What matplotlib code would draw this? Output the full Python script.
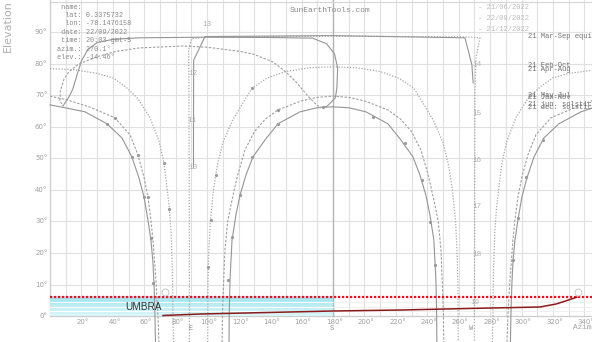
import matplotlib.pyplot as plt
import numpy as np
from matplotlib.colors import LinearSegmentedColormap

# --- values: (azimuth deg, elevation deg) ---
jun_left = [(0, 67.0), (7.6, 66.3), (22.3, 64.8), (36.3, 61.0), (45.8, 56.5), (52.1, 50.5), (56.6, 43.8),
            (59.8, 37.8), (62.3, 30.5), (64.2, 24.1), (65.5, 17.1), (66.2, 9.8), (66.8, 0), (67.1, -8.3)]
jun_right = [(350, 66.8), (337.7, 64.8), (323.7, 61.0), (314.2, 56.5), (307.9, 50.5), (303.4, 43.8),
             (300.2, 37.8), (297.7, 30.5), (295.8, 24.1), (294.5, 17.1), (293.8, 9.8), (293.2, 0), (292.9, -8.3)]
mayjul_left = [(0, 69.8), (10.8, 68.6), (25.4, 66.3), (41.3, 62.9), (50.9, 57.5), (56, 51.1), (59.8, 44.1),
               (62.3, 37.8), (64.2, 30.5), (65.5, 24.1), (67.4, 11.4), (68.7, 0), (69.3, -8.3)]
mayjul_right = [(350, 69.4), (334.6, 66.3), (318.7, 62.9), (309.1, 57.5), (304, 51.1), (300.2, 44.1),
                (297.7, 37.8), (295.8, 30.5), (294.5, 24.1), (292.6, 11.4), (291.3, 0), (290.7, -8.3)]
apraug_left = [(0, 78.5), (15, 78.2), (30, 77), (40, 75.6), (48, 72.8), (56, 69), (63.6, 63), (69.3, 55.6),
               (72.5, 48.6), (74.4, 40.9), (76, 34), (77, 26.7), (77.9, 14.6), (78.2, 0), (78.6, -8.3)]
apraug_right = [(350, 78.3), (330, 77), (320, 75.6), (312, 72.8), (304, 69), (296.4, 63), (290.7, 55.6),
                (287.5, 48.6), (285.6, 40.9), (284, 34), (283, 26.7), (282.1, 14.6), (281.8, 0), (281.4, -8.3)]
equinox = [(88.7, -8.3), (88.7, 0), (88.6, 40), (88.4, 70), (88.2, 84.4), (90, 88.0), (100, 88.6),
           (180, 88.8), (264, 88.6), (273.5, 88.3), (271, 82), (270.3, 70), (270, 0), (270, -8.3)]
today = [(91.3, 47), (91.3, 60), (91.4, 81.2), (98.6, 88.7), (180, 89.0), (264, 88.3), (268.4, 79.7),
         (269.2, 74)]
febokt = [(100.3, -8.3), (100.4, 0), (100.5, 10), (101, 20), (102, 30), (104, 40), (106.5, 48), (110, 55),
          (116, 62), (122, 67), (128.5, 72.3), (138, 75.5), (150, 77.6), (165, 78.8), (180, 79.1),
          (195, 78.8), (210, 77.6), (222, 75.5), (231.5, 72.3), (238, 67), (244, 62), (250, 55),
          (253.5, 48), (256, 40), (258, 30), (259, 20), (259.5, 10), (259.6, 0), (259.7, -8.3)]
jannov = [(109.5, -8.3), (109.7, 0), (110, 5.1), (111.3, 21), (113, 30), (115.8, 36.8), (119, 44),
          (124, 52.7), (130, 58.5), (137, 62.5), (145, 65.4), (160, 68.3), (170, 69.4), (180, 69.8),
          (190, 69.4), (200, 68.3), (215, 65.4), (223, 62.5), (230, 58.5), (236, 52.7), (241, 44),
          (244.2, 36.8), (247, 30), (248.7, 21), (250, 5.1), (250.3, 0), (250.5, -8.3)]
dec = [(113.9, -8.3), (114.0, 0), (114.5, 11.4), (115.8, 24.1), (118.3, 32.1), (120.9, 38.4), (124.7, 44.8),
       (129.1, 50.5), (136.8, 55.9), (145, 61), (159, 64.8), (170, 66.1), (180, 66.4), (190, 66.1),
       (201, 64.8), (215, 61), (223.2, 55.9), (230.9, 50.5), (235.3, 44.8), (239.1, 38.4), (241.7, 32.1),
       (244.2, 24.1), (245.5, 11.4), (246, 0), (246.1, -8.3)]
# analemma (two branches)
anal_a = [(8.3, 66.7), (12, 69.5), (14.5, 72), (17.5, 77), (20, 81), (24, 84.5), (30, 86.8), (40, 87.8),
          (57, 88.3), (100, 88.5), (140, 88.4), (167, 88.2), (176, 86.4), (181, 83.2), (183, 78.7),
          (182.5, 72.4), (181.5, 69.2), (176.5, 66.7), (173.5, 66.1)]
anal_b = [(173.5, 66.1), (170, 66.8), (165, 69.3), (157, 74), (150, 77.5), (142, 80.6), (130, 83), (121, 84),
          (100, 85.3), (84.6, 85.7), (57, 85.1), (42, 84), (30, 82.3), (18, 79.9), (12, 77.5), (8.9, 75.2),
          (6.6, 71.5), (6.3, 68.2), (8.3, 66.7)]
# hourly dots seen on the paths
dots = [(36.3, 61), (52.2, 50.5), (59.8, 37.8), (64.2, 24.8), (65.7, 10.5),
        (313.6, 55.9), (302.8, 44.1), (297.7, 31.1), (294.8, 17.8),
        (128.3, 50.6), (144.8, 61), (173.9, 66.3), (120.9, 38.4), (116, 25), (113.4, 11.4),
        (205.7, 63.3), (225.8, 54.8), (236.4, 43.2), (241.7, 29.9), (244.9, 16.2),
        (145.2, 65.4), (105.6, 44.8), (102.4, 30.5), (100.7, 15.6), (128.5, 72.3),
        (41.3, 62.9), (56, 51.1), (62.3, 37.8), (72.5, 48.6), (76, 34)]
# obstacle / shadow profile (dark red)
profile = [(71.9, 0.16), (95.4, 0.63), (180, 1.59), (222.6, 1.9), (267.2, 2.4), (311.7, 2.86),
           (321.9, 3.8), (328.2, 4.8), (335.2, 6.0)]
umbra_el = 6.1

hour_labels = ['13', '12', '11', '10', '14', '15', '16', '17', '18', '19']
hour_az = [98.6, 90.3, 89.1, 90.3, 270.4, 270.4, 270.4, 270.4, 270.4, 269.7]
hour_el = [92.4, 77.1, 62.2, 47.0, 79.7, 64.4, 49.2, 34.6, 19.4, 4.4]

path_labels = ['21 Mar-Sep equinox', '21 Feb-Oct', '21 Apr-Aug', '21 May-Jul', '21 Jan-Nov',
               '21 jun. solstice', '21 dec. solstice']
path_label_el = [88.6, 79.4, 78.1, 69.9, 69.2, 67.0, 66.3]

legend_dates = ['- 21/06/2022', '- 22/09/2022', '- 21/12/2022']
legend_el = [97.8, 94.3, 90.8]

info = (" name:\n  lat: 0.3375732\n  lon: -78.1476158\n date: 22/09/2022\n"
        " time: 20:03 gmt-5\nazim.: 270.1°\nelev.: -14.46°")

az_ticks = list(range(20, 360, 20))
el_ticks = list(range(0, 100, 10))

fig = plt.figure(figsize=(5.92, 3.42), dpi=100)
ax = fig.add_axes([0, 0, 1, 1])
ax.set_xlim(-31.8, 344.8)
ax.set_ylim(-8.25, 100.3)
ax.axis('off')

# grid
for a in range(10, 350, 10):
    ax.plot([a, a], [0, 100.3], color='#e0e0e0', lw=0.8, zorder=1)
for e in range(10, 100, 10):
    ax.plot([0, 344.8], [e, e], color='#e0e0e0', lw=0.8, zorder=1)
ax.plot([0, 0], [0, 100.3], color='#cccccc', lw=0.9, zorder=1)
ax.plot([0, 344.8], [0, 0], color='#cccccc', lw=0.9, zorder=1)
ax.plot([180, 180], [0, 100.3], color='#b5b5b5', lw=1.0, zorder=1)
ax.plot([0, 344.8], [99.8, 99.8], color='#d5d5d5', lw=0.8, zorder=1)

# umbra band
grad = np.linspace(0, 1, 50).reshape(-1, 1)
cm = LinearSegmentedColormap.from_list('u', ['#dcf7fa', '#9fe4ec'])
ax.imshow(grad, extent=[0, 180, 0, umbra_el], aspect='auto', cmap=cm, origin='lower', zorder=2)
for e in [1.5, 3.0, 4.5]:
    ax.plot([0, 180], [e, e], color='white', lw=0.7, zorder=2)
    ax.plot([180, 344.8], [e, e], color='#ececec', lw=0.6, zorder=2)
ax.text(59.5, 3.0, 'UMBRA', fontsize=7.2, family='Liberation Sans', color='#333333',
        ha='center', va='center', zorder=6)

solid = dict(color='#959595', lw=0.8, zorder=4)
dashed = dict(color='#a0a0a0', lw=0.8, ls=(0, (2.2, 1.4)), zorder=4)
dotted = dict(color='#a8a8a8', lw=0.9, ls=(0, (1, 1.3)), zorder=4)

def draw(pts, style):
    ax.plot([p[0] for p in pts], [p[1] for p in pts], **style)

draw(jun_left, solid)
draw(jun_right, solid)
draw(dec, solid)
draw(mayjul_left, dashed)
draw(mayjul_right, dashed)
draw(jannov, dashed)
draw(apraug_left, dotted)
draw(apraug_right, dotted)
draw(febokt, dotted)
draw(equinox, dotted)
draw(today, solid)
draw(anal_a, solid)
draw(anal_b, dashed)
ax.plot([p[0] for p in dots], [p[1] for p in dots], ls='none', marker='o', ms=1.3, color='#9a9a9a', zorder=4)

# red dotted limit and profile
ax.plot([0, 344.8], [umbra_el, umbra_el], color='#e8141c', lw=1.6, ls=(0, (1, 0.8)), zorder=5)
draw(profile, dict(color='#8b1a1a', lw=1.1, zorder=5))
ax.plot([73.2, 335.9], [7.6, 7.6], ls='none', marker='o', ms=5, mfc='none', mec='#c8c8c8', mew=0.7, zorder=5)

# hour labels
for t, a, e in zip(hour_labels, hour_az, hour_el):
    ax.text(a + 1.0, e, t, fontsize=5.5, family='Liberation Mono', color='#b0b0b0', ha='center', va='center', zorder=6)

# path labels (right)
for t, e in zip(path_labels, path_label_el):
    ax.text(304, e, t, fontsize=5.1, family='Liberation Mono', color='#707070', ha='left', va='center', zorder=6)
for t, e in zip(legend_dates, legend_el):
    ax.text(272.3, e, t, fontsize=5.1, family='Liberation Mono', color='#bdbdbd', ha='left', va='center', zorder=6)

ax.text(4.4, 99.1, info, fontsize=4.95, family='Liberation Mono', color='#8a8a8a', ha='left', va='top',
        linespacing=1.27, zorder=6)
ax.text(152.7, 97.1, 'SunEarthTools.com', fontsize=5.8, family='Liberation Mono', color='#8a8a8a',
        ha='left', va='center', zorder=6)

# axes labels
for a in az_ticks:
    ax.text(a + 1, -1.9, f'{a}°', fontsize=5, color='#a0a0a0', ha='center', va='center', zorder=6)
for e in el_ticks:
    ax.text(-1.6, e, f'{e}°', fontsize=5, color='#a0a0a0', ha='right', va='center', zorder=6)
for t, a in zip(['E', 'S', 'W'], [89.5, 179.5, 268]):
    ax.text(a, -3.9, t, fontsize=5, family='Liberation Mono', color='#909090', ha='center', va='center', zorder=6)
ax.text(332.7, -3.8, 'Azimuth', fontsize=5.5, family='Liberation Mono', color='#a0a0a0', ha='left', va='center')
ax.text(-26.7, 83.8, 'Elevation', fontsize=8, color='#b0b0b0', rotation=90, ha='center', va='bottom')

fig.savefig('out.png', dpi=100)
